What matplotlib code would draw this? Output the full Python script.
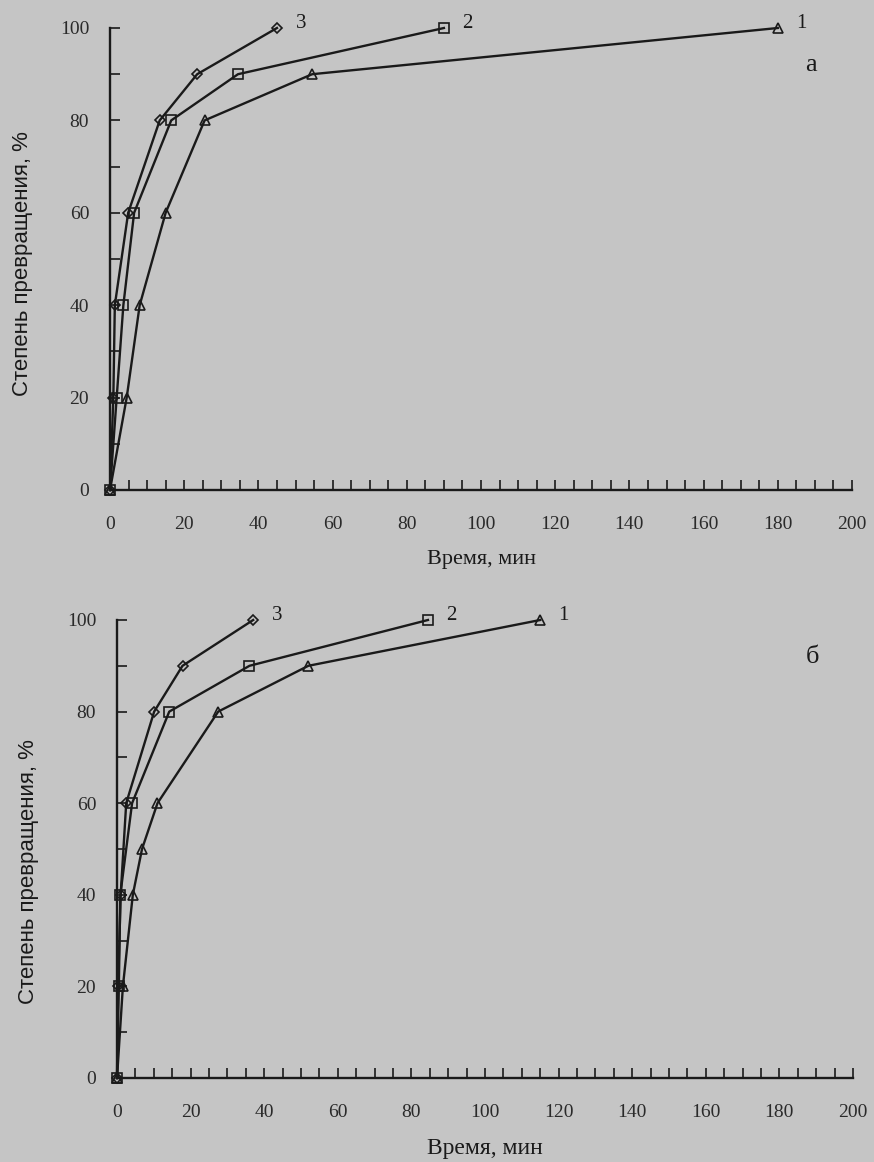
import matplotlib.pyplot as plt
from matplotlib.ticker import MultipleLocator

plt.rcParams['font.family'] = ['Liberation Serif', 'DejaVu Serif']

# Panel a: time, min / conversion, %
a_t1 = [0, 4.5, 8, 15, 25.5, 54.5, 180]
a_y1 = [0, 20, 40, 60, 80, 90, 100]
a_t2 = [0, 1.8, 3.6, 6.5, 16.5, 34.5, 90]
a_y2 = [0, 20, 40, 60, 80, 90, 100]
a_t3 = [0, 0.9, 1.3, 4.9, 13.4, 23.5, 45]
a_y3 = [0, 20, 40, 60, 80, 90, 100]

# Panel b
b_t1 = [0, 1.6, 4.3, 6.8, 11, 27.5, 52, 115]
b_y1 = [0, 20, 40, 50, 60, 80, 90, 100]
b_t2 = [0, 0.5, 0.9, 4.1, 14.2, 36, 84.5]
b_y2 = [0, 20, 40, 60, 80, 90, 100]
b_t3 = [0, 0.3, 1.0, 2.5, 10.1, 17.8, 37]
b_y3 = [0, 20, 40, 60, 80, 90, 100]

bg = '#c5c5c5'
ink = '#1a1a1a'
msize = {'^': 7, 's': 7.5, 'D': 5.5}

fig = plt.figure(figsize=(8.74, 11.62), dpi=100, facecolor=bg)
ax_a = fig.add_axes([110 / 874, 1 - 490 / 1162, 742 / 874, 462 / 1162])
ax_b = fig.add_axes([117 / 874, 1 - 1078 / 1162, 736 / 874, 458 / 1162])


def draw_panel(ax, series, letter, ylab_pos, xlab_size):
    ax.set_facecolor(bg)
    for t, y, m, lab in series:
        ax.plot(t, y, color=ink, lw=1.7, marker=m, ms=msize[m], mfc='none',
                mec=ink, mew=1.2, clip_on=False)
        ax.text(t[-1] + 5, y[-1] + 1, lab, fontsize=15, color=ink,
                ha='left', va='center')
    ax.set_xlim(0, 200)
    ax.set_ylim(0, 100)
    for s in ['top', 'right']:
        ax.spines[s].set_visible(False)
    for s in ['left', 'bottom']:
        ax.spines[s].set_linewidth(1.7)
        ax.spines[s].set_color(ink)
    ax.xaxis.set_major_locator(MultipleLocator(20))
    ax.xaxis.set_minor_locator(MultipleLocator(5))
    ax.yaxis.set_major_locator(MultipleLocator(20))
    ax.yaxis.set_minor_locator(MultipleLocator(10))
    ax.tick_params(which='both', direction='in', length=7, width=1.2,
                   color=ink, labelsize=14, labelcolor='#2a2a2a')
    ax.tick_params(axis='x', which='major', pad=19)
    ax.tick_params(axis='y', which='major', pad=15)
    ax.set_xlabel('Время, мин', fontsize=xlab_size, color=ink, labelpad=12)
    ax.set_ylabel('Степень превращения, %', fontsize=16, color=ink,
                  family=['Liberation Sans', 'DejaVu Sans'])
    ax.yaxis.set_label_coords(*ylab_pos)
    ax.text(0.945, 0.92, letter, transform=ax.transAxes, fontsize=19,
            color=ink, ha='center', va='center')


draw_panel(ax_a, [(a_t1, a_y1, '^', '1'), (a_t2, a_y2, 's', '2'),
                  (a_t3, a_y3, 'D', '3')], 'а', (-0.104, 0.49), 16)
draw_panel(ax_b, [(b_t1, b_y1, '^', '1'), (b_t2, b_y2, 's', '2'),
                  (b_t3, b_y3, 'D', '3')], 'б', (-0.106, 0.45), 17)

fig.savefig('out.png', dpi=100, facecolor=bg)
